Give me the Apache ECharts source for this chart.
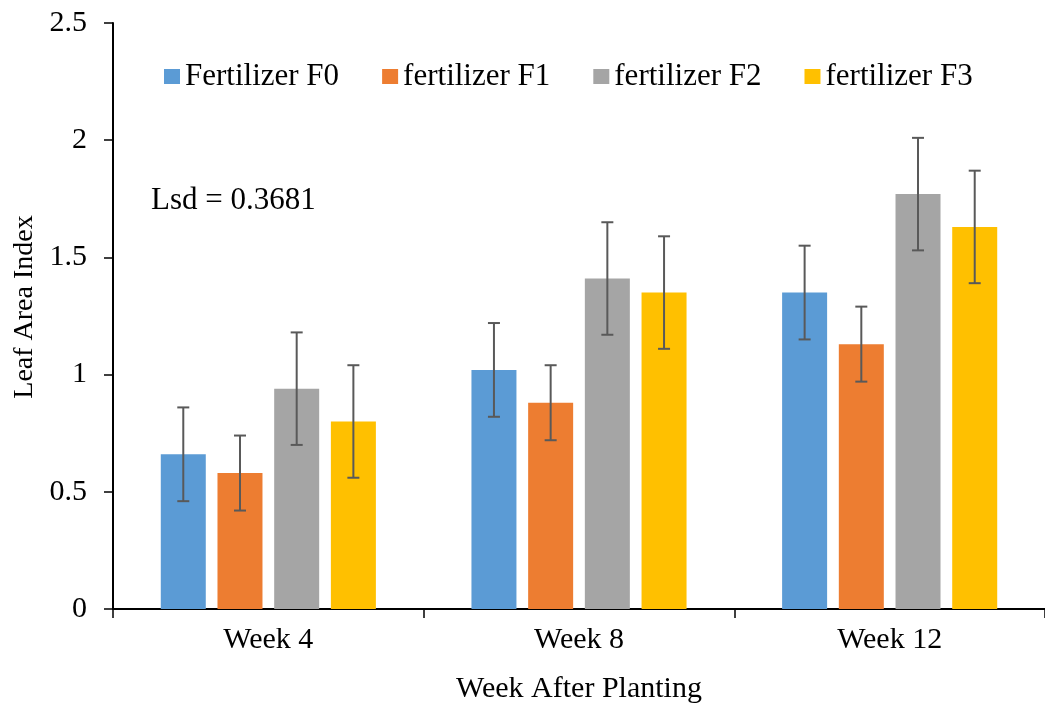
<!DOCTYPE html>
<html>
<head>
<meta charset="utf-8">
<script src="https://cdn.jsdelivr.net/npm/echarts@6/dist/echarts.min.js"></script>
<style>
html,body{margin:0;padding:0;background:#fff;}
#chart{width:1045px;height:709px;}
</style>
</head>
<body>
<div id="chart"></div>
<script>
// ---- data ----
const categories = ['Week 4', 'Week 8', 'Week 12'];
const seriesNames = ['Fertilizer F0', 'fertilizer F1', 'fertilizer F2', 'fertilizer F3'];
const f0 = [0.66, 1.02, 1.35];
const f1 = [0.58, 0.88, 1.13];
const f2 = [0.94, 1.41, 1.77];
const f3 = [0.80, 1.35, 1.63];
const f0Err = [0.20, 0.20, 0.20];
const f1Err = [0.16, 0.16, 0.16];
const f2Err = [0.24, 0.24, 0.24];
const f3Err = [0.24, 0.24, 0.24];
const yTicks = [0, 0.5, 1, 1.5, 2, 2.5];
const lsdText = 'Lsd = 0.3681';

// ---- styling ----
const colors = ['#5B9BD5', '#ED7D31', '#A5A5A5', '#FFC000'];
const FONT = '"Liberation Serif", "Times New Roman", serif';
const FS = 30;
const BAR_W = 45;
const GAP_RATIO = 0.26;

const values = [f0, f1, f2, f3];
const errs = [f0Err, f1Err, f2Err, f3Err];

const chart = echarts.init(document.getElementById('chart'), null, {renderer: 'canvas'});

const barSeries = values.map((v, k) => ({
  name: seriesNames[k],
  type: 'bar',
  data: v,
  barWidth: BAR_W,
  barGap: (GAP_RATIO * 100) + '%',
  itemStyle: {color: colors[k]},
  z: 2
}));

const errSeries = values.map((v, k) => ({
  type: 'custom',
  name: seriesNames[k] + ' err',
  data: v.map((val, i) => [i, val, errs[k][i]]),
  encode: {x: 0, y: 1},
  z: 5,
  silent: true,
  renderItem: function (params, api) {
    const ci = api.value(0), val = api.value(1), e = api.value(2);
    const gap = BAR_W * GAP_RATIO;
    const total = 4 * BAR_W + 3 * gap;
    const center = api.coord([ci, val]);
    const x = center[0] - total / 2 + k * (BAR_W + gap) + BAR_W / 2;
    const hi = api.coord([ci, val + e])[1];
    const lo = api.coord([ci, val - e])[1];
    const hw = 6;
    const st = {stroke: '#595959', lineWidth: 2};
    return {
      type: 'group',
      children: [
        {type: 'line', shape: {x1: x, y1: hi, x2: x, y2: lo}, style: st},
        {type: 'line', shape: {x1: x - hw, y1: hi, x2: x + hw, y2: hi}, style: st},
        {type: 'line', shape: {x1: x - hw, y1: lo, x2: x + hw, y2: lo}, style: st}
      ]
    };
  }
}));

const option = {
  animation: false,
  backgroundColor: '#ffffff',
  textStyle: {fontFamily: FONT},
  grid: {left: 113, top: 23, width: 936, bottom: 98, containLabel: false},
  legend: {
    data: seriesNames,
    left: 159,
    top: 56,
    itemWidth: 16,
    itemHeight: 15,
    itemGap: 43,
    icon: 'rect',
    textStyle: {fontFamily: FONT, fontSize: 31, color: '#000'}
  },
  xAxis: {
    type: 'category',
    data: categories,
    name: 'Week After Planting',
    nameLocation: 'middle',
    nameGap: 65,
    nameTextStyle: {fontFamily: FONT, fontSize: FS, color: '#000'},
    axisLine: {lineStyle: {color: '#000', width: 2}},
    axisTick: {show: true, length: 9, lineStyle: {color: '#000', width: 1.5}},
    axisLabel: {fontFamily: FONT, fontSize: FS, color: '#000', margin: 16},
    splitLine: {show: false}
  },
  yAxis: {
    type: 'value',
    min: yTicks[0],
    max: yTicks[yTicks.length - 1],
    interval: yTicks[1] - yTicks[0],
    name: 'Leaf Area Index',
    nameLocation: 'middle',
    nameGap: 74,
    nameRotate: 90,
    nameTextStyle: {fontFamily: FONT, fontSize: 28, color: '#000', padding: [0, 0, 0, 18]},
    axisLine: {show: true, lineStyle: {color: '#000', width: 2}},
    axisTick: {show: true, length: 9, lineStyle: {color: '#000', width: 1.5}},
    axisLabel: {fontFamily: FONT, fontSize: FS, color: '#000', margin: 26},
    splitLine: {show: false}
  },
  graphic: [{
    type: 'text',
    left: 151,
    top: 185,
    style: {text: lsdText, font: '31px ' + FONT, fill: '#000'}
  }],
  series: barSeries.concat(errSeries)
};
chart.setOption(option);
</script>
</body>
</html>
